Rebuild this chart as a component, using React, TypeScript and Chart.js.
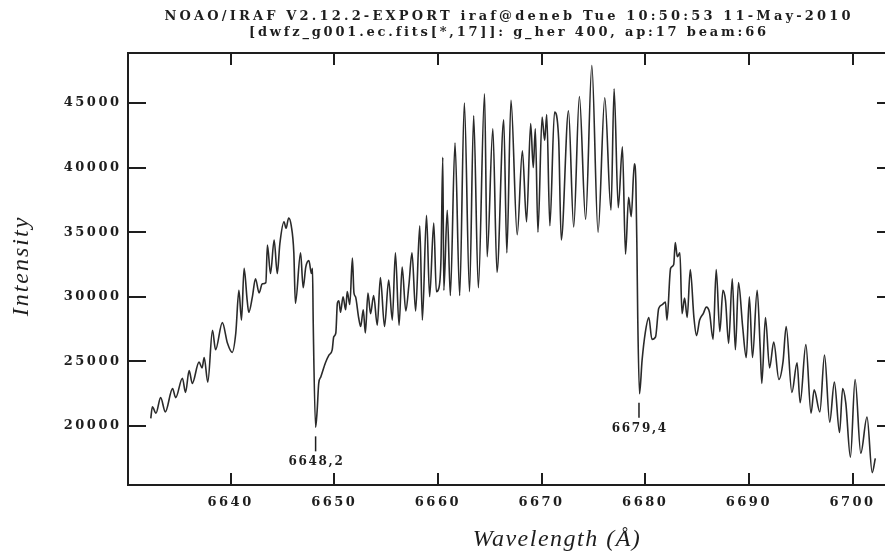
import { useEffect, useRef } from 'react';
import { Chart, registerables } from 'chart.js';

Chart.register(...registerables);

const wavelengths = [
  6632.3, 6632.45, 6632.8, 6633.25, 6633.7, 6634.4, 6634.7, 6635.35, 6635.65, 6636.0,
  6636.3, 6636.95, 6637.25, 6637.45, 6637.8, 6638.25, 6638.55, 6639.2, 6639.7, 6640.15,
  6640.5, 6640.8, 6641.05, 6641.3, 6641.6, 6641.75, 6642.1, 6642.4, 6642.75, 6643.05,
  6643.4, 6643.55, 6643.85, 6644.2, 6644.5, 6644.75, 6645.15, 6645.35, 6645.6, 6645.85,
  6646.1, 6646.25, 6646.75, 6647.0, 6647.25, 6647.55, 6647.8, 6647.9, 6647.97, 6648.2,
  6648.35, 6648.5, 6648.7, 6649.15, 6649.5, 6649.8, 6649.95, 6650.15, 6650.3, 6650.45,
  6650.6, 6650.85, 6651.1, 6651.25, 6651.5, 6651.75, 6651.9, 6652.05, 6652.35, 6652.55,
  6652.8, 6653.0, 6653.25, 6653.5, 6653.8, 6654.15, 6654.45, 6654.85, 6655.25, 6655.6,
  6655.9, 6656.25, 6656.55, 6656.9, 6657.2, 6657.5, 6657.85, 6658.25, 6658.5, 6658.9,
  6659.2, 6659.6, 6659.85, 6660.1, 6660.3, 6660.47, 6660.57, 6660.9, 6661.2, 6661.65,
  6662.1, 6662.55, 6663.05, 6663.45, 6663.9, 6664.5, 6664.75, 6665.3, 6665.7, 6666.35,
  6666.65, 6667.05, 6667.65, 6668.15, 6668.55, 6668.95, 6669.2, 6669.4, 6669.65, 6670.05,
  6670.3, 6670.5, 6670.8, 6671.25, 6671.65, 6671.9, 6672.6, 6673.1, 6673.65, 6674.25,
  6674.85, 6675.45, 6676.1, 6676.7, 6677.0, 6677.4, 6677.8, 6678.1, 6678.4, 6678.65,
  6678.95, 6679.1, 6679.2, 6679.28, 6679.45, 6679.7, 6680.0, 6680.35, 6680.65, 6681.0,
  6681.3, 6681.65, 6681.95, 6682.1, 6682.45, 6682.75, 6682.9, 6683.1, 6683.35, 6683.55,
  6683.8, 6684.05, 6684.35, 6684.7, 6684.95, 6685.25, 6685.6, 6685.9, 6686.2, 6686.55,
  6686.85, 6687.2, 6687.5, 6687.75, 6688.05, 6688.4, 6688.7, 6689.0, 6689.4, 6689.75,
  6690.05, 6690.35, 6690.8, 6691.1, 6691.25, 6691.6, 6692.0, 6692.4, 6692.9, 6693.3,
  6693.6, 6694.15, 6694.65, 6694.95, 6695.5, 6696.0, 6696.3, 6696.85, 6697.3, 6697.8,
  6698.25, 6698.75, 6699.05, 6699.35, 6699.8, 6700.25, 6700.8, 6701.4, 6701.9, 6702.2,
];

const intensities = [
  20600, 21500, 21000, 22200, 21100, 22900, 22200, 23700, 22600, 24300,
  23300, 24950, 24500, 25300, 23400, 27400, 25900, 28000, 26400, 25700,
  27200, 30500, 28200, 32200, 29700, 28800, 30000, 31400, 30300, 31000,
  31100, 34000, 31800, 34400, 31800, 34100, 35800, 35300, 36100, 35500,
  33400, 29500, 33400, 30700, 32300, 32800, 31800, 32200, 28000, 19900,
  21200, 23300, 23800, 24900, 25500, 25900, 26900, 27200, 29500, 29700,
  28800, 30000, 29000, 30400, 29400, 33000, 30300, 30000, 28400, 27700,
  29000, 27200, 30300, 28700, 30100, 27800, 31500, 27700, 31300, 28200,
  33400, 27800, 32300, 28900, 30900, 33400, 28900, 35500, 28200, 36300,
  30000, 35700, 30400, 30700, 33000, 40800, 30500, 36700, 30100, 41900,
  30100, 45000, 30400, 44000, 30700, 45700, 33100, 43000, 31900, 43700,
  33400, 45200, 34800, 41300, 35800, 43400, 40000, 43000, 35000, 43900,
  42100, 44100, 35500, 44300, 42200, 34400, 44400, 35400, 45500, 36000,
  47900, 35000, 45400, 36700, 46100, 36900, 41600, 33300, 37700, 36200,
  40300, 38800, 33800, 28400, 22500, 25100, 27200, 28400, 26700, 26900,
  29100, 29400, 29600, 28200, 32200, 32500, 34200, 33100, 33400, 28700,
  29900, 28400, 32100, 28400, 27000, 28200, 28700, 29200, 28800, 26700,
  32100, 27300, 30500, 29700, 26400, 31400, 25900, 31100, 27700, 25300,
  30000, 25300, 30500, 25900, 23300, 28400, 24500, 26500, 23600, 25000,
  27700, 22600, 24900, 21800, 26300, 21000, 22800, 21100, 25500, 20300,
  23400, 19500, 22900, 21800, 17600, 23600, 17900, 20700, 16400, 17500,
];

const xTicks = [6640, 6650, 6660, 6670, 6680, 6690, 6700];
const yTicks = [20000, 25000, 30000, 35000, 40000, 45000];

const markWavelengths = [6648.2, 6679.4];
const markIntensities = [19900, 22500];
const markLabels = ['6648,2', '6679,4'];

const titleLines = [
  'NOAO/IRAF V2.12.2-EXPORT iraf@deneb Tue 10:50:53 11-May-2010',
  '[dwfz_g001.ec.fits[*,17]]: g_her 400, ap:17 beam:66',
];
const xTitle = 'Wavelength (Å)';
const yTitle = 'Intensity';

const INK = '#1e1e1e';
const TICK_FONT = { family: 'DejaVu Serif', weight: 'bold' as const, size: 13 };

const decorPlugin = {
  id: 'decor',
  beforeDraw(chart: any) {
    (chart.ctx as any).letterSpacing = '2.5px';
  },
  afterDraw(chart: any) {
    const ctx = chart.ctx as CanvasRenderingContext2D & { letterSpacing: string };
    const a = chart.chartArea;
    const xs = chart.scales.x;
    const ys = chart.scales.y;
    ctx.save();
    ctx.letterSpacing = '0px';
    ctx.strokeStyle = INK;
    ctx.lineWidth = 2;
    ctx.strokeRect(a.left, a.top, a.right - a.left, a.bottom - a.top);
    ctx.beginPath();
    for (const t of xs.ticks) {
      const p = Math.round(xs.getPixelForValue(t.value));
      ctx.moveTo(p, a.bottom);
      ctx.lineTo(p, a.bottom - 12);
      ctx.moveTo(p, a.top);
      ctx.lineTo(p, a.top + 12);
    }
    for (const t of ys.ticks) {
      const p = Math.round(ys.getPixelForValue(t.value));
      ctx.moveTo(a.left, p);
      ctx.lineTo(a.left + 18, p);
      ctx.moveTo(a.right, p);
      ctx.lineTo(a.right - 18, p);
    }
    ctx.stroke();

    // line identifications
    ctx.fillStyle = INK;
    ctx.lineWidth = 1.5;
    ctx.font = 'bold 12px "DejaVu Serif"';
    ctx.textAlign = 'center';
    ctx.textBaseline = 'middle';
    ctx.letterSpacing = '1.7px';
    markWavelengths.forEach((w, i) => {
      const px = xs.getPixelForValue(w);
      const py = ys.getPixelForValue(markIntensities[i]);
      ctx.beginPath();
      ctx.moveTo(px, py + 9);
      ctx.lineTo(px, py + 24);
      ctx.stroke();
      ctx.fillText(markLabels[i], px + 0.85, py + 35);
    });

    // header lines
    const cx = (a.left + a.right) / 2 - 4;
    const targets = [686, 516];
    const ys0 = [17, 33];
    titleLines.forEach((line, i) => {
      ctx.letterSpacing = '0px';
      ctx.font = 'bold 13px "DejaVu Serif"';
      const w = ctx.measureText(line).width;
      const s = Math.max(0, (targets[i] - w) / (line.length - 1));
      ctx.letterSpacing = s + 'px';
      ctx.fillText(line, cx + s / 2, ys0[i]);
    });

    // axis titles
    ctx.font = 'italic 24px "Liberation Serif"';
    ctx.letterSpacing = '1.5px';
    ctx.fillText(xTitle, 557, 540);
    ctx.save();
    ctx.translate(22, 267);
    ctx.rotate(-Math.PI / 2);
    ctx.letterSpacing = '2px';
    ctx.fillText(yTitle, 1, 0);
    ctx.restore();

    ctx.restore();
    ctx.letterSpacing = '0px';
  },
};

export default function App() {
  const ref = useRef<HTMLCanvasElement>(null);
  useEffect(() => {
    if (!ref.current) return;
    const chart = new Chart(ref.current, {
      type: 'line',
      data: {
        datasets: [
          {
            data: wavelengths.map((w, i) => ({ x: w, y: intensities[i] })),
            borderColor: '#2a2a2a',
            borderWidth: 1.6,
            pointRadius: 0,
            cubicInterpolationMode: 'monotone',
            fill: false,
          },
        ],
      },
      options: {
        responsive: false,
        animation: false,
        devicePixelRatio: 1,
        layout: { padding: { left: 0, right: 5, top: 53, bottom: 0 } },
        plugins: {
          legend: { display: false },
          tooltip: { enabled: false },
          title: { display: false },
        },
        scales: {
          x: {
            type: 'linear',
            min: 6630.1,
            max: 6704.1,
            afterBuildTicks: (s: any) => {
              s.ticks = xTicks.map((v) => ({ value: v }));
            },
            afterFit: (s: any) => {
              s.height = 70;
            },
            grid: { display: false, drawTicks: false },
            border: { display: false },
            ticks: {
              padding: 10,
              maxRotation: 0,
              minRotation: 0,
              autoSkip: false,
              color: INK,
              font: TICK_FONT,
              callback: (v: any) => String(v),
            },
          },
          y: {
            type: 'linear',
            min: 15440,
            max: 48864,
            afterBuildTicks: (s: any) => {
              s.ticks = yTicks.map((v) => ({ value: v }));
            },
            afterFit: (s: any) => {
              s.width = 128;
            },
            grid: { display: false, drawTicks: false },
            border: { display: false },
            ticks: {
              padding: 6.5,
              autoSkip: false,
              color: INK,
              font: TICK_FONT,
              callback: (v: any) => String(v),
            },
          },
        },
      },
      plugins: [decorPlugin],
    });
    return () => chart.destroy();
  }, []);
  return (
    <div
      style={{
        position: 'absolute',
        left: 0,
        top: 0,
        width: 885,
        height: 555,
        overflow: 'hidden',
        background: '#ffffff',
      }}
    >
      <canvas ref={ref} width={900} height={555} style={{ display: 'block' }} />
    </div>
  );
}
